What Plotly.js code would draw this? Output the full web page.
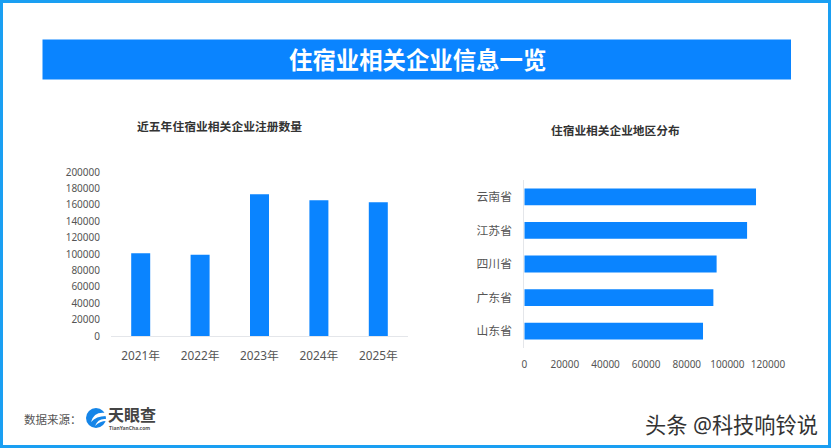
<!DOCTYPE html>
<html>
<head>
<meta charset="utf-8">
<script src="https://cdn.plot.ly/plotly-3.0.1.min.js"></script>
<style>
  html, body { margin: 0; padding: 0; background: #fff; }
  #chart { width: 831px; height: 448px; }
</style>
</head>
<body>
<div id="chart"></div>
<script>
const years = ['2021年', '2022年', '2023年', '2024年', '2025年'];
const yearCounts = [101000, 99000, 173000, 165500, 163000];
const countTicks = [0, 20000, 40000, 60000, 80000, 100000, 120000, 140000, 160000, 180000, 200000];

const provinces = ['云南省', '江苏省', '四川省', '广东省', '山东省'];
const provinceCounts = [114100, 109700, 94700, 93100, 88000];
const provinceTicks = [0, 20000, 40000, 60000, 80000, 100000, 120000];

const W = 831, H = 448;
const cjk = '"Noto Sans", "Noto Sans CJK SC", sans-serif';
const blue = '#0a84ff';
const tickFont = { family: cjk, size: 10, color: '#555' };
const catFont = { family: cjk, size: 11.8, color: '#555' };

// pixel helpers, layout is all measured off the 831x448 page
const fx = px => px / W;
const fy = px => 1 - px / H;

function pxRect(x0, y0, x1, y1, fill) {
  return { type: 'rect', xref: 'paper', yref: 'paper', x0: fx(x0), x1: fx(x1), y0: fy(y0), y1: fy(y1),
    fillcolor: fill, line: { width: 0 } };
}

function label(text, x, y, size, color, bold, anchor) {
  return { text: bold ? '<b>' + text + '</b>' : text, xref: 'paper', yref: 'paper', x: fx(x), y: fy(y),
    showarrow: false, xanchor: anchor || 'center', yanchor: 'middle',
    font: { family: cjk, size: size, color: color } };
}

const data = [
  { type: 'bar', x: years, y: yearCounts, width: 0.32, xaxis: 'x', yaxis: 'y', marker: { color: blue }, hoverinfo: 'x+y' },
  { type: 'bar', x: provinceCounts, y: provinces, width: 0.5, orientation: 'h', xaxis: 'x2', yaxis: 'y2', marker: { color: blue }, hoverinfo: 'x+y' }
];

const layout = {
  width: W,
  height: H,
  margin: { l: 0, r: 0, t: 0, b: 0 },
  paper_bgcolor: '#fff',
  plot_bgcolor: '#fff',
  showlegend: false,
  xaxis: {
    domain: [fx(111), fx(408)], anchor: 'y', type: 'category', tickfont: catFont,
    showgrid: false, zeroline: false, showline: true, linecolor: '#e4e6ea', linewidth: 1,
    ticks: 'outside', ticklen: 9, tickcolor: 'rgba(0,0,0,0)'
  },
  yaxis: {
    domain: [fy(336), fy(172)], anchor: 'x', range: [0, 200000], tickvals: countTicks, ticktext: countTicks.map(String),
    tickfont: tickFont, showgrid: false, zeroline: false, showline: false,
    ticks: 'outside', ticklen: 8, tickcolor: 'rgba(0,0,0,0)'
  },
  xaxis2: {
    domain: [fx(524.3), fx(768)], anchor: 'y2', range: [0, 120000], tickvals: provinceTicks, ticktext: provinceTicks.map(String),
    tickfont: tickFont, showgrid: false, zeroline: false, showline: false,
    ticks: 'outside', ticklen: 7, tickcolor: 'rgba(0,0,0,0)'
  },
  yaxis2: {
    domain: [fy(348), fy(180)], anchor: 'x2', type: 'category', autorange: 'reversed', tickfont: catFont,
    showgrid: false, zeroline: false, showline: true, linecolor: '#e4e6ea', linewidth: 1,
    ticks: 'outside', ticklen: 9, tickcolor: 'rgba(0,0,0,0)'
  },
  shapes: [
    // outer frame
    pxRect(0, 0, W, 3, '#1a9ff2'),
    pxRect(0, 445, W, H, '#1a9ff2'),
    pxRect(0, 0, 3, H, '#1a9ff2'),
    pxRect(828, 0, W, H, '#1a9ff2'),
    // header band
    pxRect(42.5, 39.5, 791, 79.5, blue),
    // logo disc
    { type: 'circle', xref: 'paper', yref: 'paper', x0: fx(86), x1: fx(106), y0: fy(428), y1: fy(408),
      fillcolor: '#1585e8', line: { width: 0 } },
    { type: 'path', xref: 'paper', yref: 'paper', fillcolor: '#fff', line: { width: 0 },
      path: 'M ' + fx(106) + ' ' + fy(413) + ' Q ' + fx(94) + ' ' + fy(411) + ' ' + fx(91) + ' ' + fy(422) +
        ' Q ' + fx(96) + ' ' + fy(416) + ' ' + fx(106) + ' ' + fy(416) + ' Z' },
    { type: 'path', xref: 'paper', yref: 'paper', fillcolor: '#fff', line: { width: 0 },
      path: 'M ' + fx(106) + ' ' + fy(419) + ' Q ' + fx(98) + ' ' + fy(418) + ' ' + fx(95) + ' ' + fy(426) +
        ' Q ' + fx(100) + ' ' + fy(421) + ' ' + fx(106) + ' ' + fy(421) + ' Z' }
  ],
  annotations: [
    label('住宿业相关企业信息一览', 417.5, 60, 23.4, '#fff', true),
    label('近五年住宿业相关企业注册数量', 219.5, 126, 11.8, '#333', true),
    label('住宿业相关企业地区分布', 615.5, 130.5, 11.7, '#333', true),
    label('数据来源：', 22, 419, 11.5, '#555', false, 'left'),
    label('天眼查', 106, 414.5, 16, '#444', true, 'left'),
    label('TianYanCha.com', 107, 427.5, 5, '#555', true, 'left'),
    label('头条 @科技响铃说', 643, 424, 21.2, '#333', false, 'left')
  ]
};

Plotly.newPlot('chart', data, layout, { displayModeBar: false, responsive: false });
</script>
</body>
</html>
